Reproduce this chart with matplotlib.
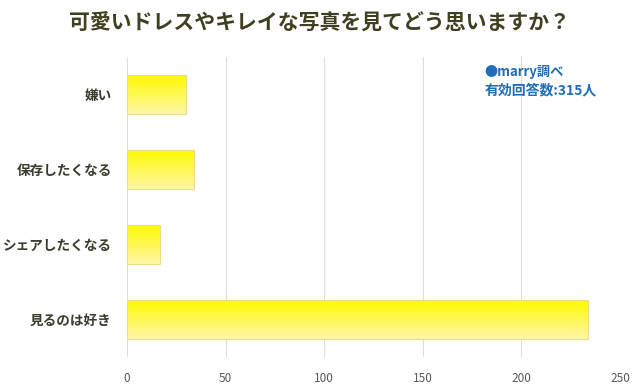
import matplotlib

matplotlib.use("Agg")
import matplotlib.pyplot as plt
import numpy as np
from matplotlib.colors import LinearSegmentedColormap

plt.rcParams["font.family"] = ["Noto Sans CJK JP", "DejaVu Sans"]

# data (total = 315 respondents)
categories = ["嫌い", "保存したくなる", "シェアしたくなる", "見るのは好き"]
counts = [30, 34, 17, 234]
x_ticks = [0, 50, 100, 150, 200, 250]

title = "可愛いドレスやキレイな写真を見てどう思いますか？"
note_lines = ["●marry調べ", "有効回答数:315人"]

fig = plt.figure(figsize=(6.4, 3.9), dpi=100)
ax = fig.add_axes([0.1984, 0.0846, 0.7703, 0.7692])

y = np.arange(len(categories))
bar_h = 0.52
bars = ax.barh(y, counts, height=bar_h, color="none",
               edgecolor="#E9DC8E", linewidth=0.8, zorder=3)

# vertical yellow gradient inside every bar
grad_cmap = LinearSegmentedColormap.from_list("yel", ["#FFFA00", "#FFF6A8"])
grad = np.linspace(0, 1, 64).reshape(-1, 1)
for rect in bars:
    x0, y0 = rect.get_x(), rect.get_y()
    w, h = rect.get_width(), rect.get_height()
    im = ax.imshow(grad, cmap=grad_cmap, aspect="auto",
                   extent=[x0, x0 + w, y0 + h, y0], origin="upper", zorder=2)
    im.set_clip_path(rect)

ax.set_xlim(0, 250)
ax.set_ylim(len(categories) - 0.5, -0.5)
ax.set_xticks(x_ticks)
ax.set_xticklabels([str(t) for t in x_ticks], fontsize=8.5, color="#595959")
ax.set_yticks(y)
ax.set_yticklabels(categories, fontsize=9.8, fontweight="bold", color="#3B3B2E")
ax.tick_params(length=0)
ax.tick_params(axis="y", pad=11)
ax.tick_params(axis="x", pad=11)
ax.grid(axis="x", color="#DDDDDD", linewidth=0.8, zorder=0)
ax.set_axisbelow(True)
for s in ax.spines.values():
    s.set_visible(False)

fig.text(0.5, 0.94, title, ha="center", va="center", fontsize=15,
         fontweight="bold", color="#3F3F22")

fig.text(0.757, 0.815, note_lines[0], ha="left", va="center", fontsize=9.5,
         fontweight="bold", color="#1F6CB8")
fig.text(0.757, 0.768, note_lines[1], ha="left", va="center", fontsize=10,
         fontweight="bold", color="#1F6CB8")

fig.savefig("out.png", dpi=100)
